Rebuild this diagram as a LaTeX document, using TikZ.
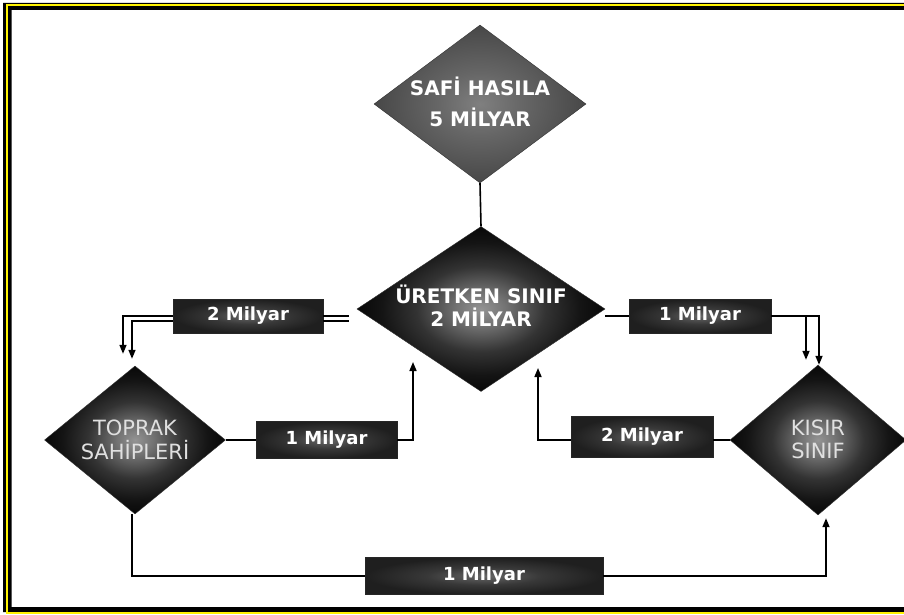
\documentclass[tikz,border=0pt]{standalone}
\usepackage{fontspec}
\setmainfont{DejaVu Sans}
\usetikzlibrary{shapes.geometric,arrows.meta,calc}

\pgfdeclareradialshading{diamshade}{\pgfpoint{0bp}{0bp}}{color(0bp)=(black!42); color(5bp)=(black!55); color(13bp)=(black!80); color(20bp)=(black!92); color(25bp)=(black!97); color(50bp)=(black!97)}
\pgfdeclareradialshading{safishade}{\pgfpoint{0bp}{0bp}}{color(0bp)=(black!50); color(10bp)=(black!60); color(25bp)=(black!72); color(50bp)=(black!72)}
\pgfdeclareradialshading{boxshade}{\pgfpoint{0bp}{0bp}}{color(0bp)=(black!60); color(12bp)=(black!78); color(25bp)=(black!88); color(50bp)=(black!88)}

\begin{document}
\begin{tikzpicture}[x=1pt,y=-1pt,
  conn/.style={line width=1.6pt, black},
  arr/.style={conn, -{Triangle[length=9pt,width=7pt]}},
  dia/.style={diamond, shape aspect=1, inner sep=0pt, draw=black!80, line width=0.4pt, shade, shading=diamshade},
  safid/.style={dia, shading=safishade},
  mbox/.style={rectangle, draw=black!85, line width=0.8pt, shade, shading=boxshade, inner sep=0pt, font=\bfseries\fontsize{18}{20}\selectfont, text=white},
  dtxt/.style={align=center, inner sep=0pt, text=white},
  ltxt/.style={align=center, inner sep=0pt, text=black!12}
]
\useasboundingbox (0,0) rectangle (904,615);
\fill[white] (0,0) rectangle (904,615);
% frame
\fill[black, even odd rule] (3,3) rectangle (960,612) (11.5,10) rectangle (960,607);
\draw[yellow, line width=2pt] (6.5,5) rectangle (960,613);

% diamonds
\node[safid, minimum width=212pt, minimum height=158pt] (safi) at (480,104) {};
\node[dia, minimum width=248pt, minimum height=165pt] (uret) at (481,309) {};
\node[dia, minimum width=181pt, minimum height=148pt] (toprak) at (135,440) {};
\node[dia, minimum width=176pt, minimum height=150pt] (kisir) at (818,440) {};

\node[dtxt, font=\bfseries\fontsize{20}{31}\selectfont] (safiT) at ([yshift=2pt]safi.center) {SAFİ HASILA\\5 MİLYAR};
\node[dtxt, font=\bfseries\fontsize{20}{23}\selectfont] (uretT) at ([yshift=3pt]uret.center) {ÜRETKEN SINIF\\2 MİLYAR};
\node[ltxt, font=\fontsize{21}{24}\selectfont] (toprakT) at (toprak.center) {TOPRAK\\SAHİPLERİ};
\node[ltxt, font=\fontsize{21}{23}\selectfont] (kisirT) at ([yshift=1pt]kisir.center) {KISIR\\SINIF};

% boxes
\node[mbox, minimum width=150pt, minimum height=34pt] (b1) at (248,316) {2 Milyar};
\node[mbox, minimum width=142pt, minimum height=34pt] (b2) at (700,316) {1 Milyar};
\node[mbox, minimum width=141pt, minimum height=37pt] (b3) at (326.5,440) {1 Milyar};
\node[mbox, minimum width=142pt, minimum height=41pt] (b4) at (642,437) {2 Milyar};
\node[mbox, minimum width=238pt, minimum height=37pt] (b5) at (484,576) {1 Milyar};

% connectors
\draw[conn] (safi.south) -- (uret.north);

\draw[conn] (b1.east) -- ([xshift=-8pt]uret.west |- b1.east);
\draw[conn] ([yshift=-5pt]b1.east) -- ([xshift=-8pt,yshift=-5pt]uret.west |- b1.east);
\draw[arr] (b1.west) -| ([xshift=-12pt,yshift=12pt]toprak.north);
\draw[arr] ([yshift=-5pt]b1.west) -| ([xshift=-3pt,yshift=7pt]toprak.north);

\draw[conn] (toprak.east) -- (toprak.east -| b3.west);
\draw[arr] (b3.east) -| ([xshift=-68pt,yshift=-53pt]uret.center);

\draw[conn] (uret.east |- b2.west) -- (b2.west);
\draw[arr] (b2.east) -| ([xshift=-12pt,yshift=5pt]kisir.north);
\draw[arr] (b2.east) -| ([xshift=1pt]kisir.north);

\draw[conn] (kisir.west) -- (kisir.west -| b4.east);
\draw[arr] (kisir.west -| b4.west) -| ([xshift=57pt,yshift=-59pt]uret.center);

\draw[conn] ([xshift=-3pt]toprak.south) |- (b5.west);
\draw[arr] (b5.east) -| ([xshift=8pt,yshift=-3pt]kisir.south);
\end{tikzpicture}
\end{document}
